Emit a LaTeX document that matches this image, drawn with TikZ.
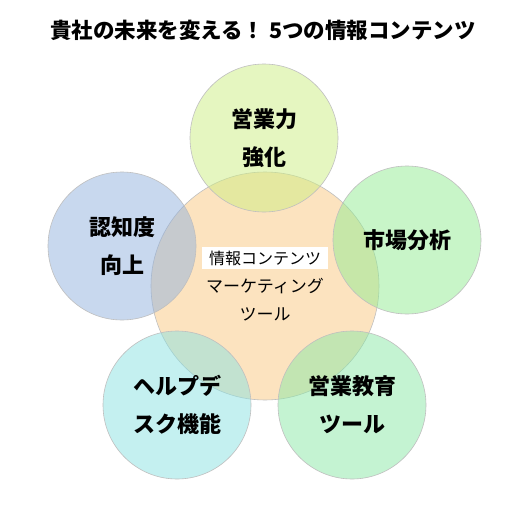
\documentclass[tikz,border=0pt]{standalone}
\usepackage{fontspec}
\newfontfamily\jp{Noto Sans CJK JP}
\definecolor{orangeC}{RGB}{251,200,128}
\definecolor{lemonC}{RGB}{205,238,130}
\definecolor{blueC}{RGB}{146,178,222}
\definecolor{limeC}{RGB}{146,236,146}
\definecolor{cyanC}{RGB}{138,226,226}
\definecolor{mintC}{RGB}{138,232,166}
\tikzset{
  bubble/.style={circle,draw=black!25,line width=0.6pt,fill opacity=0.5,text opacity=1,
    inner sep=0pt,minimum size=148pt,align=center,
    font=\jp\bfseries\fontsize{22}{38}\selectfont},
}
\begin{document}
\begin{tikzpicture}[x=1pt,y=-1pt]
    \useasboundingbox[fill=white] (0,0) rectangle (528,504);
    \node[font=\jp\bfseries\fontsize{21.5}{24}\selectfont] (titulo) at (263,30) {貴社の未来を変える！ 5つの情報コンテンツ};

    % Circulo central
    \def\rcentro{228pt}
    \node[bubble,fill=orangeC,minimum size=\rcentro] (centro) at (265,286) {};

    % Cinco circulos alrededor
    \node[bubble,fill=lemonC] (ventas) at (264,138) {営業力\\強化};
    \node[bubble,fill=blueC] (marca) at (122,246) {認知度\\向上};
    \node[bubble,fill=limeC] (mercado) at (407,240) {市場分析};
    \node[bubble,fill=cyanC] (ayuda) at (177,405) {ヘルプデ\\スク機能};
    \node[bubble,fill=mintC] (formacion) at (352,405) {営業教育\\ツール};

    % Textos del centro
    \node[fill=white,inner xsep=7pt,inner ysep=4pt,font=\jp\fontsize{16}{20}\selectfont] (etiqueta) at (265,258) {情報コンテンツ};
    \node[align=center,font=\jp\fontsize{17}{28}\selectfont] (herramienta) at (265,300) {マーケティング\\ツール};
\end{tikzpicture}
\end{document}
